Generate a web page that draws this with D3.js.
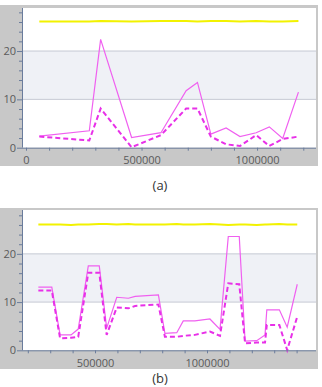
<!DOCTYPE html>
<html>
<head>
<meta charset="utf-8">
<script src="https://cdn.jsdelivr.net/npm/d3@7"></script>
<style>
  body { margin: 0; background: #fff; }
  text { font-family: "Segoe UI", "Open Sans", "DejaVu Sans", sans-serif; }
</style>
</head>
<body>
<div id="chart"></div>
<script>
// panel (a)
var xA = [57600, 274000, 323000, 457000, 584000, 693000, 742000, 800000, 866000, 926000, 996000, 1053000, 1111000, 1179000];
var refA = [26.1, 26.1, 26.2, 26.1, 26.2, 26.2, 26.1, 26.2, 26.2, 26.1, 26.2, 26.1, 26.1, 26.2];
var solidA = [2.4, 3.5, 22.4, 2.1, 3.1, 11.8, 13.5, 2.8, 4.1, 2.3, 3.1, 4.3, 1.9, 11.5];
var dashA = [2.3, 1.5, 8.1, 0.1, 2.6, 8.1, 8.1, 2.3, 0.7, 0.35, 2.6, 0.35, 1.8, 2.3];

// panel (b)
var xB = [247000, 307000, 344000, 393000, 425000, 470000, 519000, 552000, 597000, 649000, 679000, 783000, 812000, 865000,
          894000, 946000, 1013000, 1058000, 1095000, 1144000, 1170000, 1222000, 1259000, 1267000, 1323000, 1358000, 1403000];
var refB = [26.1, 26.1, 26.1, 26.0, 26.1, 26.1, 26.2, 26.2, 26.1, 26.2, 26.1, 26.1, 26.1, 26.2,
            26.1, 26.1, 26.2, 26.1, 26.0, 26.1, 26.1, 26.0, 26.1, 26.1, 26.2, 26.1, 26.1];
var solidB = [13.1, 13.1, 3.2, 3.2, 4.4, 17.5, 17.5, 4.6, 11.0, 10.8, 11.2, 11.5, 3.5, 3.65,
              6.1, 6.1, 6.5, 4.35, 23.6, 23.6, 1.9, 2.0, 3.2, 8.4, 8.4, 4.8, 13.7];
var dashB = [12.4, 12.4, 2.5, 2.6, 2.8, 16.1, 16.1, 3.2, 8.9, 8.7, 9.2, 9.5, 2.8, 2.8,
             3.0, 3.2, 3.9, 3.0, 13.9, 13.7, 1.45, 1.6, 1.6, 5.25, 5.25, 0.05, 7.0];

var yLabels = [0, 10, 20];
var xLabels = [0, 500000, 1000000];

var svg = d3.select("#chart")
  .append("svg")
    .attr("width", 322)
    .attr("height", 387);

function panel(opt) {
  var g = svg.append("g");

  // gray frame
  g.append("rect")
    .attr("x", 0).attr("y", opt.frameTop)
    .attr("width", 318).attr("height", opt.frameBottom - opt.frameTop)
    .attr("fill", "#c8c8c8");

  var x = d3.scaleLinear().domain(opt.xDomain).range([22, 316]);
  var y = d3.scaleLinear().domain(opt.yDomain).range([opt.bottom, opt.top]);

  // plot area
  g.append("rect")
    .attr("x", 22).attr("y", opt.top)
    .attr("width", 294).attr("height", opt.bottom - opt.top)
    .attr("fill", "#fff");

  // shaded band 10..20
  g.append("rect")
    .attr("x", 22).attr("y", y(20))
    .attr("width", 294).attr("height", y(10) - y(20))
    .attr("fill", "#eff1f6");

  // grid lines
  g.selectAll(".grid").data([10, 20]).enter().append("line")
    .attr("x1", 22).attr("x2", 316)
    .attr("y1", function(d) { return y(d); })
    .attr("y2", function(d) { return y(d); })
    .attr("stroke", "#c5c9d3").attr("stroke-width", 1);

  var line = function(vals) {
    return d3.line()
      .x(function(d, i) { return x(opt.xs[i]); })
      .y(function(d) { return y(d); })(vals);
  };

  g.append("path").attr("d", line(opt.ref))
    .attr("fill", "none").attr("stroke", "#f2f200").attr("stroke-width", 2);
  g.append("path").attr("d", line(opt.solid))
    .attr("fill", "none").attr("stroke", "#f060f0").attr("stroke-width", 1.2);
  g.append("path").attr("d", line(opt.dash))
    .attr("fill", "none").attr("stroke", "#e830e8").attr("stroke-width", 2)
    .attr("stroke-dasharray", "5,3");

  // x axis
  var xMinor = d3.range(Math.ceil(opt.xDomain[0] / 100000) * 100000, opt.xDomain[1], 100000);
  var xAxis = g.append("g")
    .attr("transform", "translate(0," + opt.bottom + ")")
    .call(d3.axisBottom(x).tickValues(xMinor).tickSize(3)
      .tickFormat(function(d) { return xLabels.indexOf(d) >= 0 ? d : ""; }));
  xAxis.select(".domain").attr("stroke", "#6a7c9c").attr("d", "M22,0.5H316");
  xAxis.selectAll(".tick line").attr("stroke", "#6a7c9c");
  xAxis.selectAll(".tick text")
    .attr("fill", "#5a5a5a").attr("font-size", 11).attr("dy", "0.95em");

  // y axis
  var yAxis = g.append("g")
    .attr("transform", "translate(22,0)")
    .call(d3.axisLeft(y).tickValues(d3.range(0, opt.yDomain[1], 2)).tickSize(3)
      .tickFormat(function(d) { return yLabels.indexOf(d) >= 0 ? d : ""; }));
  yAxis.select(".domain").attr("stroke", "#6a7c9c")
    .attr("d", "M0.5," + opt.bottom + "V" + opt.top);
  yAxis.selectAll(".tick line").attr("stroke", "#6a7c9c")
    .attr("x2", function(d) { return yLabels.indexOf(d) >= 0 ? -5 : -3; });
  yAxis.selectAll(".tick text")
    .attr("fill", "#5a5a5a").attr("font-size", 11).attr("x", -6);

  // caption
  svg.append("text")
    .attr("x", 160).attr("y", opt.caption)
    .attr("text-anchor", "middle")
    .attr("font-size", 13)
    .attr("fill", "#333")
    .text(opt.label);
}

panel({
  frameTop: 5, frameBottom: 166, top: 8, bottom: 147.7,
  xDomain: [-17300, 1255000], yDomain: [0, 28.9],
  xs: xA, ref: refA, solid: solidA, dash: dashA,
  caption: 190, label: "(a)"
});

panel({
  frameTop: 208, frameBottom: 369, top: 210, bottom: 350.3,
  xDomain: [174000, 1486600], yDomain: [0, 29.1],
  xs: xB, ref: refB, solid: solidB, dash: dashB,
  caption: 383, label: "(b)"
});
</script>
</body>
</html>
